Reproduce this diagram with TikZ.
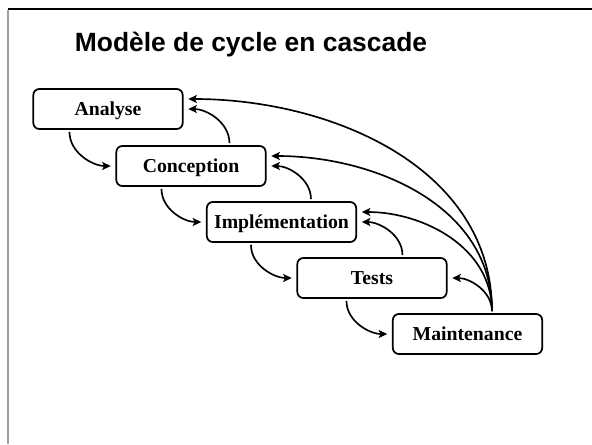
\documentclass[tikz,border=0pt]{standalone}
\usepackage{fontspec}
\setmainfont{Liberation Serif}
\newfontfamily\titlefont{Liberation Sans}
\usetikzlibrary{arrows.meta,calc}
\tikzset{
  phase/.style={draw, line width=1.3pt, rounded corners=4.5pt, minimum width=112pt, minimum height=30pt, inner sep=2pt, text height=9.8pt, text depth=0pt, font=\fontsize{14.8}{16}\selectfont\bfseries, fill=white},
  flow/.style={line width=1.25pt, -{Stealth[length=6.5pt,width=6pt,inset=1.5pt]}, shorten >=3.5pt, shorten <=1.5pt},
}
\begin{document}
\begin{tikzpicture}[x=0.75pt,y=-0.75pt]
\useasboundingbox (0,0) rectangle (592,444);
% frame
\draw[line width=1.2pt] (8,9) -- (592,9);
\draw[gray!75, line width=1.6pt] (8,9.5) -- (8,444);
% title
\node[anchor=base, font=\titlefont\fontsize{19.8}{22}\selectfont\bfseries] (title) at (251,51) {Modèle de cycle en cascade};
% phases
\node[phase] (A) at (108,109) {Analyse};
\node[phase] (C) at (191,166) {Conception};
\node[phase] (I) at (281.5,222) {Implémentation};
\node[phase] (T) at (372,278) {Tests};
\node[phase] (M) at (467.5,334) {Maintenance};
% downward flow
\draw[flow] ($(A.south west)+(37,0)$) to[out=-90,in=180] (C.west);
\draw[flow] ($(C.south west)+(46,0)$) to[out=-90,in=180] (I.west);
\draw[flow] ($(I.south west)+(45,0)$) to[out=-90,in=180] (T.west);
\draw[flow] ($(T.south west)+(50,0)$) to[out=-90,in=180] (M.west);
% short feedback
\draw[flow] ($(C.north west)+(114,0)$) to[out=90,in=0] (A.east);
\draw[flow] ($(I.north west)+(105,0)$) to[out=90,in=0] (C.east);
\draw[flow] ($(T.north west)+(106,0)$) to[out=90,in=0] (I.east);
% long feedback from maintenance
\coordinate (mstart) at ($(M.north west)+(100,0)$);
\draw[flow] (mstart) to[out=90,in=0] (T.east);
\draw[flow] (mstart) to[out=90,in=0] ($(I.east)+(0,-10)$);
\draw[flow] (mstart) to[out=90,in=0] ($(C.east)+(0,-10)$);
\draw[flow] (mstart) to[out=90,in=0] ($(A.east)+(0,-10)$);
\end{tikzpicture}
\end{document}
